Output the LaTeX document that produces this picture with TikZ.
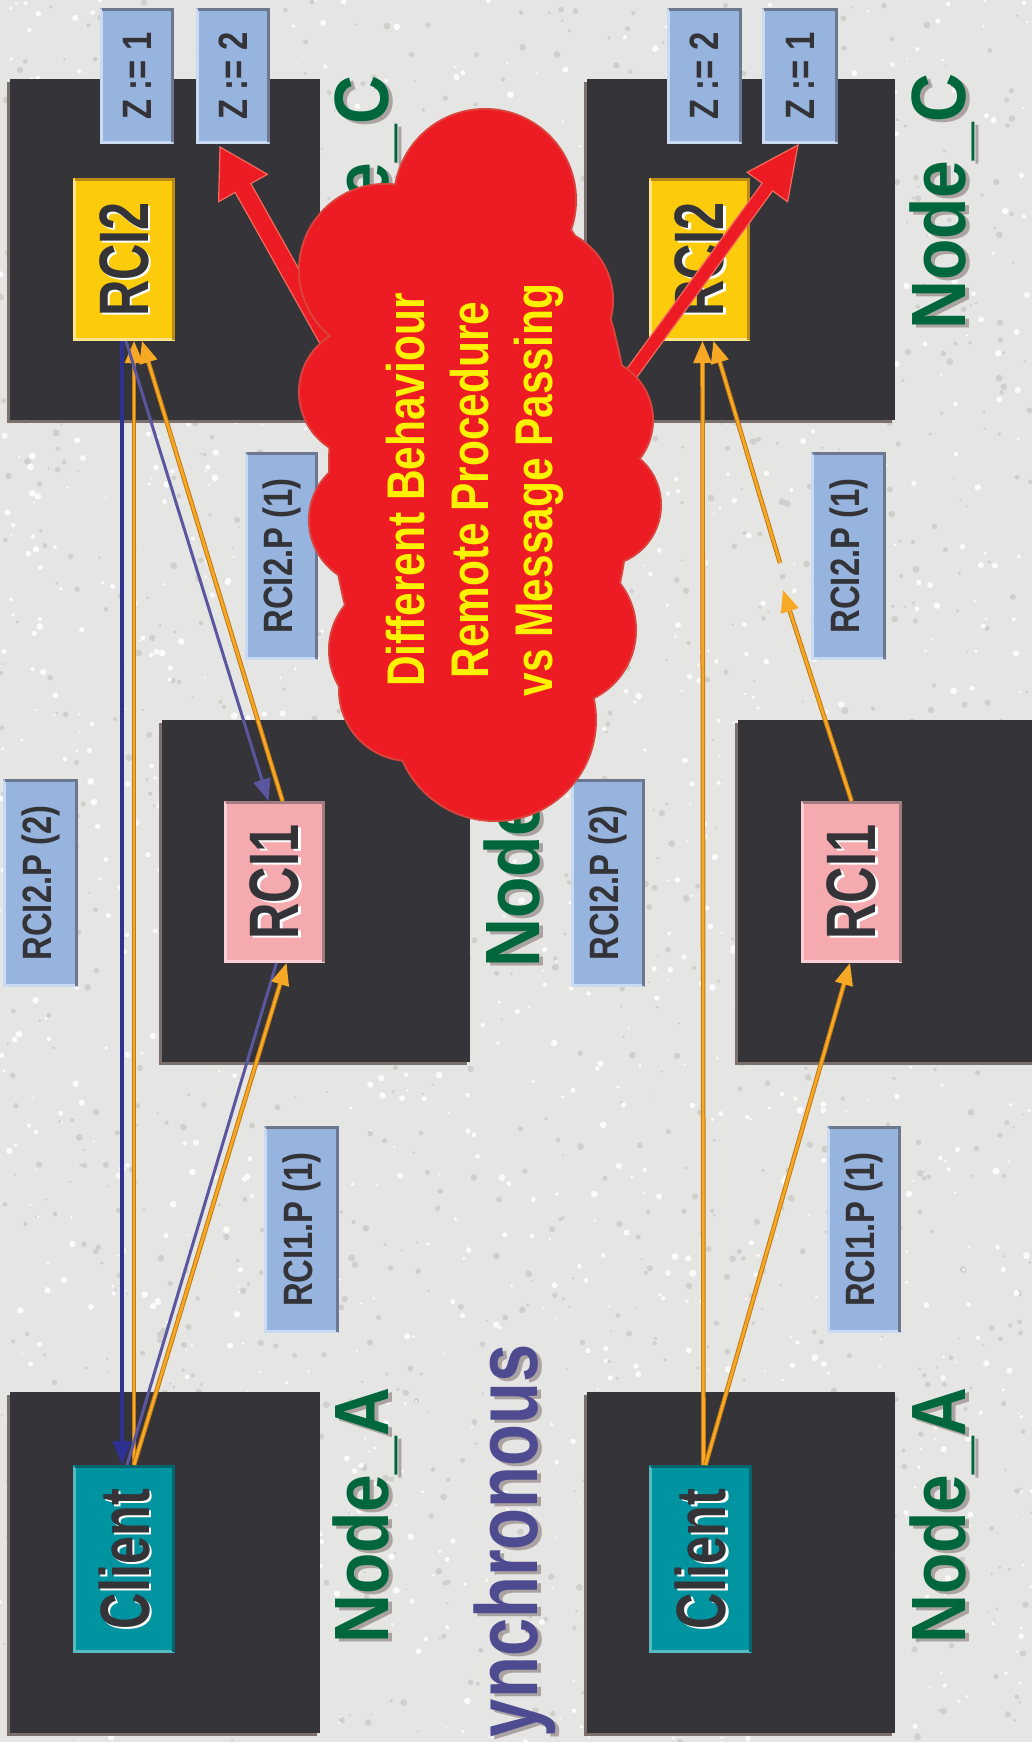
\documentclass[tikz,border=0pt]{standalone}
\usepackage{fontspec}
\setmainfont{Liberation Sans}
\newfontfamily\boxfam[FakeStretch=0.72]{Liberation Sans}
\newfontfamily\labfam[FakeStretch=0.8]{Liberation Sans}
\newfontfamily\cloudfam[FakeStretch=0.8]{Liberation Sans}
\newfontfamily\titlefam[FakeStretch=0.88]{Liberation Sans}
\newfontfamily\synfam[FakeStretch=0.78]{Liberation Sans}
\usetikzlibrary{arrows.meta,calc}
\definecolor{bgc}{HTML}{E5E5E3}
\definecolor{speckd}{HTML}{CFCFCC}
\definecolor{boxdark}{HTML}{353439}
\definecolor{boxshadow}{HTML}{7C706E}
\definecolor{zblue}{HTML}{96B4DE}
\definecolor{zdark}{HTML}{6B788F}
\definecolor{zlight}{HTML}{C9DAF2}
\definecolor{yellowc}{HTML}{FCCB0B}
\definecolor{ydark}{HTML}{B98B17}
\definecolor{ylight}{HTML}{FFE38A}
\definecolor{pinkc}{HTML}{F5AAB0}
\definecolor{pdark}{HTML}{A07C7E}
\definecolor{plight}{HTML}{FBD0D4}
\definecolor{tealc}{HTML}{0093A0}
\definecolor{tdark}{HTML}{00646C}
\definecolor{tlight}{HTML}{55BAC2}
\definecolor{txtdark}{HTML}{333338}
\definecolor{greent}{HTML}{00673D}
\definecolor{gshadow}{HTML}{ABA3A1}
\definecolor{purplet}{HTML}{4E4B91}
\definecolor{orangec}{HTML}{F7A824}
\definecolor{orangedark}{HTML}{C27A14}
\definecolor{bluev}{HTML}{2E3192}
\definecolor{bluel}{HTML}{5A56A0}
\definecolor{redc}{HTML}{ED1C24}
\definecolor{redline}{HTML}{F26B5B}
\definecolor{cloudline}{HTML}{D9453C}
\definecolor{yellowtxt}{HTML}{FFF200}

\newcommand{\cfont}{\boxfam\bfseries\fontsize{70}{80}\selectfont}
\newcommand{\lfont}{\labfam\bfseries\fontsize{41}{50}\selectfont}
\newcommand{\tfont}{\titlefam\bfseries\fontsize{77}{90}\selectfont}
\newcommand{\sfont}{\synfam\bfseries\fontsize{88}{100}\selectfont}
\newcommand{\clfont}{\cloudfam\bfseries\fontsize{53}{64}\selectfont}

% name, center, w, h, fill, dark, light
\newcommand{\mkbox}[7]{%
  \node[inner sep=0pt,outer sep=0pt,minimum width=#3pt,minimum height=#4pt,fill=#5] (#1) at (#2) {};
  \draw[#7,line width=3pt] ([shift={(1.5,1.5)}]#1.north west) -- ([shift={(1.5,-1.5)}]#1.south west) -- ([shift={(-1.5,-1.5)}]#1.south east);
  \draw[#6,line width=3pt] ([shift={(1.5,1.5)}]#1.north west) -- ([shift={(-1.5,1.5)}]#1.north east) -- ([shift={(-1.5,-1.5)}]#1.south east);
}
% name, at, font, color, text (white shadow)
\newcommand{\ctext}[5]{%
  \node[rotate=90,inner sep=0pt,text=white,font=#3] (#1s) at ([shift={(2.5,2)}]#2) {#5};
  \node[rotate=90,inner sep=0pt,text=#4,font=#3] (#1) at (#2) {#5};
}
% name, at, anchor, font, color, text (grey shadow)
\newcommand{\ttext}[6]{%
  \node[rotate=90,inner sep=0pt,anchor=#3,text=gshadow,font=#4] (#1s) at ([shift={(4,3)}]#2) {#6};
  \node[rotate=90,inner sep=0pt,anchor=#3,text=#5,font=#4] (#1) at (#2) {#6};
}
% red block arrow: tip, tail, head length, head half width, shaft half width
\newcommand{\redarrow}[5]{%
  \fill[redc,draw=redline,line width=1.2pt]
    (#1) -- ($($(#1)!#3!(#2)$)!#4!90:(#1)$) -- ($($(#1)!#3!(#2)$)!#5!90:(#1)$)
    -- ($(#2)!#5!90:(#1)$) -- ($(#2)!#5!-90:(#1)$)
    -- ($($(#1)!#3!(#2)$)!#5!-90:(#1)$) -- ($($(#1)!#3!(#2)$)!#4!-90:(#1)$) -- cycle;
}

\begin{document}
\begin{tikzpicture}[x=1pt,y=-1pt,
  ocon/.style={draw=orangec,line width=2.6pt,
     preaction={draw=orangedark,line width=4.6pt,-,shorten >=14pt},
     -{Triangle[length=22pt,width=18pt,fill=orangec]}},
  bcon/.style={draw=bluev,line width=3.6pt,-{Triangle[length=24pt,width=18pt,fill=bluev]}},
  lcon/.style={draw=bluel,line width=3pt,-{Triangle[length=22pt,width=17pt,fill=bluel]}},
  lline/.style={draw=bluel,line width=3pt}]
\useasboundingbox (0,0) rectangle (1032,1742);
\fill[bgc] (0,0) rectangle (1032,1742);
% granite speckle
\pgfmathsetseed{42}
\foreach \i in {1,...,1400}{
  \pgfmathsetmacro{\px}{rnd*1032}
  \pgfmathsetmacro{\py}{rnd*1742}
  \pgfmathsetmacro{\pr}{1+rnd*2.5}
  \fill[speckd] (\px,\py) circle[radius=\pr];
}
\foreach \i in {1,...,1400}{
  \pgfmathsetmacro{\px}{rnd*1032}
  \pgfmathsetmacro{\py}{rnd*1742}
  \pgfmathsetmacro{\pr}{1+rnd*2.5}
  \fill[white!85!bgc] (\px,\py) circle[radius=\pr];
}

% dark node boxes
\foreach \xa/\ya/\xb/\yb in {10/79/320/420, 162/720/470/1062, 10/1392/320/1733,
   587/79/895/420, 738/720/1035/1062, 587/1392/895/1733}{
  \fill[boxshadow] (\xa-3,\ya+3) rectangle (\xb-3,\yb+3);
  \fill[boxdark] (\xa,\ya) rectangle (\xb,\yb);
}

% label boxes
\mkbox{zoneA}{137,76}{74}{136}{zblue}{zdark}{zlight}
\mkbox{ztwoA}{233,76}{74}{136}{zblue}{zdark}{zlight}
\mkbox{ztwoB}{704.5,76}{75}{136}{zblue}{zdark}{zlight}
\mkbox{zoneB}{800,76}{76}{136}{zblue}{zdark}{zlight}
\mkbox{ptoA}{281.5,556}{73}{208}{zblue}{zdark}{zlight}
\mkbox{pttA}{40.5,883}{75}{208}{zblue}{zdark}{zlight}
\mkbox{pooA}{301.5,1229.5}{75}{207}{zblue}{zdark}{zlight}
\mkbox{ptoB}{848.5,556}{75}{208}{zblue}{zdark}{zlight}
\mkbox{pttB}{608,883}{74}{208}{zblue}{zdark}{zlight}
\mkbox{pooB}{864,1229.5}{74}{207}{zblue}{zdark}{zlight}
\node[rotate=90,text=txtdark,font=\lfont] (tzoneA) at (zoneA.center) {Z := 1};
\node[rotate=90,text=txtdark,font=\lfont] (tztwoA) at (ztwoA.center) {Z := 2};
\node[rotate=90,text=txtdark,font=\lfont] (tztwoB) at (ztwoB.center) {Z := 2};
\node[rotate=90,text=txtdark,font=\lfont] (tzoneB) at (zoneB.center) {Z := 1};
\node[rotate=90,text=txtdark,font=\lfont] (tptoA) at (ptoA.center) {RCI2.P (1)};
\node[rotate=90,text=txtdark,font=\lfont] (tpttA) at (pttA.center) {RCI2.P (2)};
\node[rotate=90,text=txtdark,font=\lfont] (tpooA) at (pooA.center) {RCI1.P (1)};
\node[rotate=90,text=txtdark,font=\lfont] (tptoB) at (ptoB.center) {RCI2.P (1)};
\node[rotate=90,text=txtdark,font=\lfont] (tpttB) at (pttB.center) {RCI2.P (2)};
\node[rotate=90,text=txtdark,font=\lfont] (tpooB) at (pooB.center) {RCI1.P (1)};

% component boxes
\mkbox{rtwoA}{124,259.5}{102}{163}{yellowc}{ydark}{ylight}
\mkbox{roneA}{274.5,882}{101}{162}{pinkc}{pdark}{plight}
\mkbox{cliA}{124,1559}{102}{188}{tealc}{tdark}{tlight}
\mkbox{rtwoB}{699.5,259.5}{101}{163}{yellowc}{ydark}{ylight}
\mkbox{roneB}{851.5,882}{101}{162}{pinkc}{pdark}{plight}
\mkbox{cliB}{700.5,1559}{103}{188}{tealc}{tdark}{tlight}
\ctext{trtwoA}{rtwoA.center}{\cfont}{txtdark}{RCI2}
\ctext{troneA}{roneA.center}{\cfont}{txtdark}{RCI1}
\ctext{tcliA}{cliA.center}{\cfont}{txtdark}{Client}
\ctext{trtwoB}{rtwoB.center}{\cfont}{txtdark}{RCI2}
\ctext{troneB}{roneB.center}{\cfont}{txtdark}{RCI1}
\ctext{tcliB}{cliB.center}{\cfont}{txtdark}{Client}

% node titles
\ttext{ncA}{388,332}{base west}{\tfont}{greent}{Node\_C}
\ttext{nbA}{539,968}{base west}{\tfont}{greent}{Node\_B}
\ttext{naA}{388,1644}{base west}{\tfont}{greent}{Node\_A}
\ttext{ncB}{965,330}{base west}{\tfont}{greent}{Node\_C}
\ttext{naB}{965,1644}{base west}{\tfont}{greent}{Node\_A}
\ttext{syn}{537,1344}{base east}{\sfont}{purplet}{ynchronous}

% connectors, upper (synchronous) half
\draw[bcon] ([xshift=-2pt]rtwoA.south) -- ([xshift=-2pt]cliA.north);
\draw[ocon] ([xshift=10pt]cliA.north) -- ([xshift=10pt]rtwoA.south);
\draw[lcon] ([xshift=2pt]rtwoA.south) -- ([xshift=-6pt]roneA.north);
\draw[ocon] ([xshift=8pt]roneA.north) -- ([xshift=18pt]rtwoA.south);
\draw[lline] ([xshift=3pt]cliA.north) -- ([xshift=2pt]roneA.south);
\draw[ocon] ([xshift=10pt]cliA.north) -- ([xshift=12pt]roneA.south);

% connectors, lower half
\coordinate (gapA) at (783,590);
\coordinate (gapB) at (780,563);
\draw[ocon] ([xshift=3pt]cliB.north) -- ([xshift=3pt]rtwoB.south);
\draw[ocon] ([xshift=5pt]cliB.north) -- ([xshift=-1.5pt]roneB.south);
\draw[ocon] (roneB.north) -- (gapA);
\draw[ocon] (gapB) -- ([xshift=14pt]rtwoB.south);

% red block arrows
\coordinate (rtA) at ([shift={(-13,3)}]ztwoA.south);
\coordinate (rsA) at (335,352);
\redarrow{rtA}{rsA}{47pt}{28pt}{9pt}
\coordinate (rtB) at ([shift={(-2,1)}]zoneB.south);
\coordinate (rsB) at (618,392);
\redarrow{rtB}{rsB}{52pt}{25pt}{6.5pt}

% cloud
\foreach \cx/\cy/\r in {485/200/90, 385/270/85, 540/300/72, 365/392/65, 590/420/62,
   375/520/65, 600/505/60, 400/650/70, 560/630/75, 410/690/70, 495/720/100}{
  \draw[cloudline,line width=4pt] (\cx,\cy) circle[radius=\r];
}
\draw[cloudline,line width=4pt] (480,470) ellipse[x radius=150,y radius=300];
\foreach \cx/\cy/\r in {485/200/90, 385/270/85, 540/300/72, 365/392/65, 590/420/62,
   375/520/65, 600/505/60, 400/650/70, 560/630/75, 410/690/70, 495/720/100}{
  \fill[redc] (\cx,\cy) circle[radius=\r];
}
\fill[redc] (480,470) ellipse[x radius=150,y radius=300];
\node[rotate=90,align=center,text=yellowtxt,font=\clfont,inner sep=0pt] (cloudtext) at (475,490)
  {Different Behaviour\\Remote Procedure\\vs Message Passing};
\end{tikzpicture}
\end{document}
